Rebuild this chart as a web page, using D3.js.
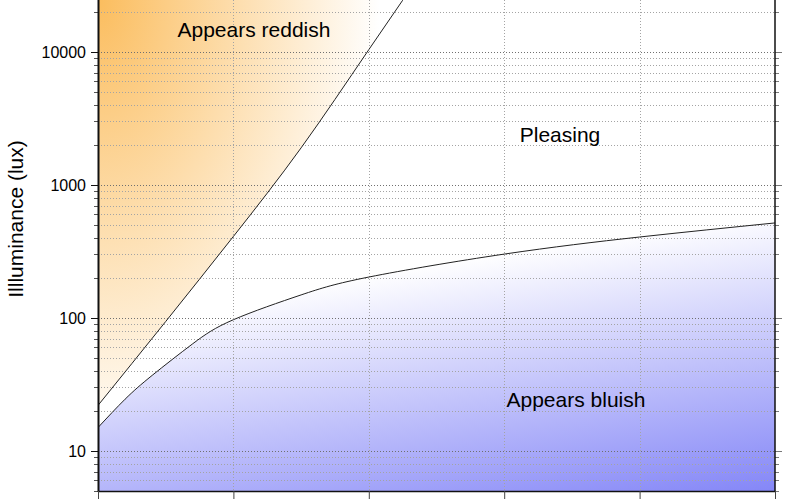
<!DOCTYPE html>
<html>
<head>
<meta charset="utf-8">
<script src="https://cdn.jsdelivr.net/npm/d3@7"></script>
<style>
  html, body { margin: 0; padding: 0; background: #fff; }
  svg { display: block; font-family: "Liberation Sans", Arial, Helvetica, sans-serif; }
</style>
</head>
<body>
<svg id="chart" width="800" height="500"></svg>
<script>
// ---- data ----
const xTicks = [2000, 3000, 4000, 5000, 6000, 7000];
const yMajorTicks = [10, 100, 1000, 10000];
const yTickLabels = ["10", "100", "1000", "10000"];
const upperTempK = [2000, 2500, 3000, 3500, 4000, 4500];
const upperLux   = [22, 94, 410, 1900, 10400, 57000];
const lowerTempK = [2000, 2200, 2400, 2700, 3000, 3500, 4000, 5000, 6000, 7000];
const lowerLux   = [15, 24.5, 37, 64, 97, 149, 203, 302, 406, 518];
const regionLabels = ["Appears reddish", "Pleasing", "Appears bluish"];
const regionLabelPos = [[3152, 13000], [5412, 2100], [5530, 21.4]];
const yTitle = "Illluminance (lux)";

// ---- layout ----
const pLeft = 98, pRight = 775, pTop = 0, pBottom = 491;
const svg = d3.select("#chart");
const x = d3.scaleLinear().domain([2000, 7000]).range([pLeft, pRight]);
const y = d3.scaleLog().domain([5, 25000]).range([pBottom, -1]);

// minor values
const minorVals = [];
for (let e = 0; e <= 4; e++) for (let m = 1; m <= 9; m++) {
  const v = m * Math.pow(10, e);
  if (v >= 5 && v <= 25000) minorVals.push(v);
}

const defs = svg.append("defs");
defs.append("clipPath").attr("id", "plotclip").append("rect")
  .attr("x", pLeft).attr("y", pTop).attr("width", pRight - pLeft).attr("height", pBottom - pTop);

const og = defs.append("radialGradient").attr("id", "orangeGrad")
  .attr("gradientUnits", "userSpaceOnUse")
  .attr("cx", 0).attr("cy", 0).attr("r", 1).attr("fx", 0).attr("fy", 0)
  .attr("gradientTransform", "translate(98,0) scale(320,520)");
og.append("stop").attr("offset", 0).attr("stop-color", "#fbbd5e");
og.append("stop").attr("offset", 0.88).attr("stop-color", "#ffffff");

const bg = defs.append("linearGradient").attr("id", "blueGrad")
  .attr("gradientUnits", "userSpaceOnUse")
  .attr("x1", 730).attr("y1", 215).attr("x2", 775).attr("y2", 490);
bg.append("stop").attr("offset", 0).attr("stop-color", "#ffffff");
bg.append("stop").attr("offset", 1).attr("stop-color", "#8587f7");

const plot = svg.append("g").attr("clip-path", "url(#plotclip)");

const upperPts = upperTempK.map((t, i) => [t, upperLux[i]]);
const lowerPts = lowerTempK.map((t, i) => [t, lowerLux[i]]);
const curve = d3.curveNatural;

// fills
plot.append("path")
  .datum(upperPts)
  .attr("fill", "url(#orangeGrad)")
  .attr("d", d3.area().curve(curve)
    .x(d => x(d[0])).y0(-300).y1(d => y(d[1])));
plot.append("path")
  .datum(lowerPts)
  .attr("fill", "url(#blueGrad)")
  .attr("d", d3.area().curve(curve)
    .x(d => x(d[0])).y0(pBottom).y1(d => y(d[1])));

// grid
plot.append("g").selectAll("line").data(minorVals).join("line")
  .attr("x1", pLeft).attr("x2", pRight)
  .attr("y1", d => Math.round(y(d)) + 0.5).attr("y2", d => Math.round(y(d)) + 0.5)
  .attr("stroke", d => yMajorTicks.includes(d) ? "#707070" : "#a4a4a4")
  .attr("stroke-width", 1)
  .attr("stroke-dasharray", "1,2");
plot.append("g").selectAll("line").data(xTicks.slice(1, -1)).join("line")
  .attr("x1", d => Math.round(x(d)) + 0.5).attr("x2", d => Math.round(x(d)) + 0.5)
  .attr("y1", pTop).attr("y2", pBottom)
  .attr("stroke", "#a4a4a4").attr("stroke-width", 1)
  .attr("stroke-dasharray", "1,2");

// curves
const line = d3.line().curve(curve).x(d => x(d[0])).y(d => y(d[1]));
plot.append("path").datum(upperPts).attr("fill", "none")
  .attr("stroke", "#222").attr("stroke-width", 1).attr("d", line);
plot.append("path").datum(lowerPts).attr("fill", "none")
  .attr("stroke", "#222").attr("stroke-width", 1).attr("d", line);

// region labels
svg.append("g").selectAll("text").data(regionLabels).join("text")
  .attr("x", (d, i) => x(regionLabelPos[i][0]))
  .attr("y", (d, i) => y(regionLabelPos[i][1]))
  .attr("text-anchor", "middle")
  .attr("font-size", 21)
  .attr("fill", "#000")
  .text(d => d);

// left axis
const gl = svg.append("g").attr("transform", `translate(${pLeft},0)`);
gl.selectAll("line.tk").data(minorVals).join("line").attr("class", "tk")
  .attr("x1", d => yMajorTicks.includes(d) ? -7 : -4).attr("x2", 0)
  .attr("y1", d => Math.round(y(d)) + 0.5).attr("y2", d => Math.round(y(d)) + 0.5)
  .attr("stroke", d => yMajorTicks.includes(d) ? "#111" : "#555");
gl.selectAll("text").data(yMajorTicks).join("text")
  .attr("x", -12).attr("y", d => y(d)).attr("dy", "0.35em")
  .attr("text-anchor", "end").attr("font-size", 16).attr("fill", "#000")
  .text((d, i) => yTickLabels[i]);
gl.append("line").attr("x1", 0.5).attr("x2", 0.5).attr("y1", pTop).attr("y2", pBottom + 1)
  .attr("stroke", "#111").attr("stroke-width", 2);

// right axis
const gr = svg.append("g").attr("transform", `translate(${pRight},0)`);
gr.selectAll("line.tk").data(minorVals).join("line").attr("class", "tk")
  .attr("x1", 0).attr("x2", d => yMajorTicks.includes(d) ? 7 : 4)
  .attr("y1", d => Math.round(y(d)) + 0.5).attr("y2", d => Math.round(y(d)) + 0.5)
  .attr("stroke", "#777");
gr.append("line").attr("x1", 0).attr("x2", 0).attr("y1", pTop).attr("y2", pBottom)
  .attr("stroke", "#111").attr("stroke-width", 1.5);

// bottom axis
const xAxis = d3.axisBottom(x).tickValues(xTicks).tickSize(8).tickSizeOuter(0).tickFormat("");
const gb = svg.append("g").attr("transform", `translate(0,${pBottom})`).call(xAxis);
gb.select(".domain").attr("stroke", "#111").attr("stroke-width", 1.5);
gb.selectAll(".tick line").attr("stroke", "#444");

// y title
svg.append("text")
  .attr("transform", `translate(23,${219}) rotate(-90)`)
  .attr("text-anchor", "middle")
  .attr("font-size", 21)
  .attr("fill", "#000")
  .text(yTitle);
</script>
</body>
</html>
